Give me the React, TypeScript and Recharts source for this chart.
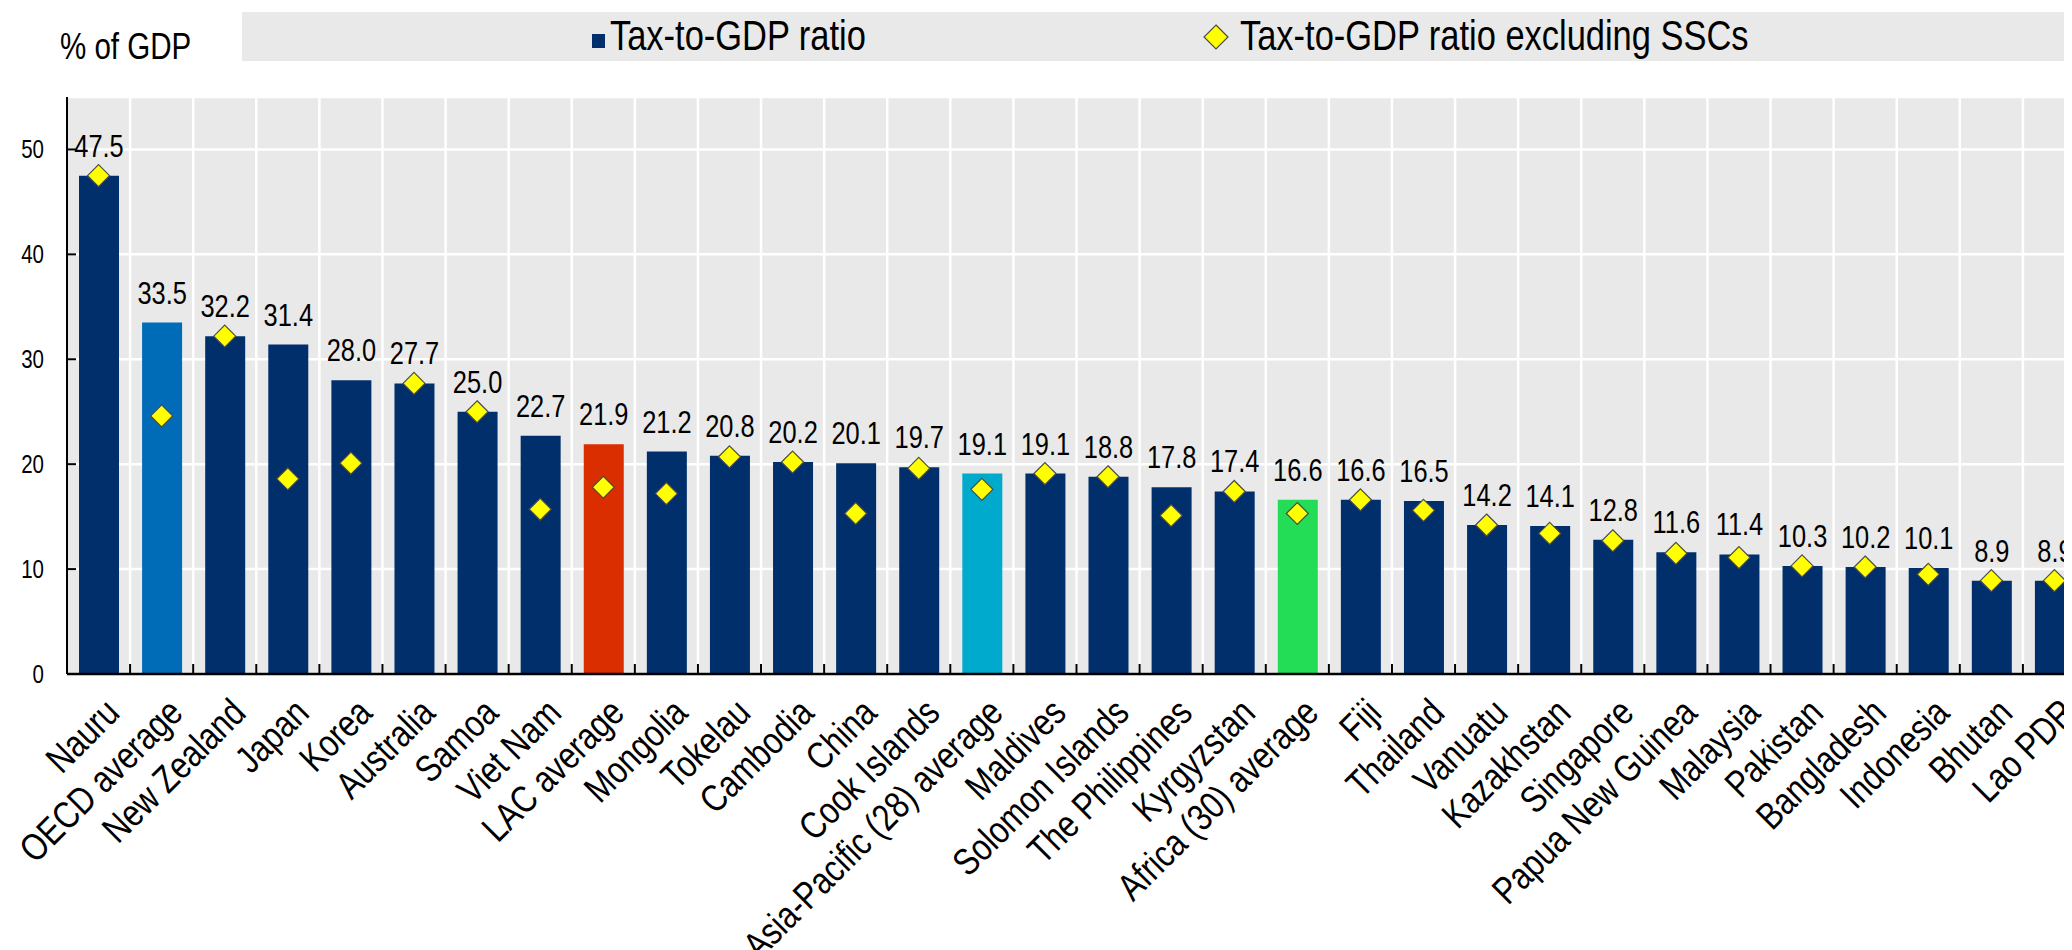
import { Bar, CartesianGrid, Cell, ComposedChart, LabelList, Line, XAxis, YAxis } from 'recharts';

// the original uses a condensed sans; squeeze Liberation Sans to match
const FONT = '"Liberation Sans", Arial, sans-serif';
const SQUEEZE = 0.82;

const countries = [
  'Nauru',
  'OECD average',
  'New Zealand',
  'Japan',
  'Korea',
  'Australia',
  'Samoa',
  'Viet Nam',
  'LAC average',
  'Mongolia',
  'Tokelau',
  'Cambodia',
  'China',
  'Cook Islands',
  'Asia-Pacific (28) average',
  'Maldives',
  'Solomon Islands',
  'The Philippines',
  'Kyrgyzstan',
  'Africa (30) average',
  'Fiji',
  'Thailand',
  'Vanuatu',
  'Kazakhstan',
  'Singapore',
  'Papua New Guinea',
  'Malaysia',
  'Pakistan',
  'Bangladesh',
  'Indonesia',
  'Bhutan',
  'Lao PDR',
];

const taxToGdp = [
  47.5, 33.5, 32.2, 31.4, 28.0, 27.7, 25.0, 22.7, 21.9, 21.2, 20.8, 20.2, 20.1, 19.7, 19.1, 19.1,
  18.8, 17.8, 17.4, 16.6, 16.6, 16.5, 14.2, 14.1, 12.8, 11.6, 11.4, 10.3, 10.2, 10.1, 8.9, 8.9,
];

const taxExclSsc = [
  47.5, 24.6, 32.2, 18.6, 20.1, 27.7, 25.0, 15.7, 17.8, 17.2, 20.7, 20.2, 15.3, 19.6, 17.6, 19.1,
  18.8, 15.1, 17.4, 15.3, 16.6, 15.6, 14.2, 13.4, 12.7, 11.5, 11.1, 10.3, 10.2, 9.5, 8.9, 8.9,
];

const yTicks = [0, 10, 20, 30, 40, 50];

const NAVY = '#002F6C';
const highlight: Record<string, string> = {
  'OECD average': '#006BB6',
  'LAC average': '#DA2D00',
  'Asia-Pacific (28) average': '#00AACC',
  'Africa (30) average': '#22DD55',
};

const data = countries.map((name, i) => ({ name, tax: taxToGdp[i], excl: taxExclSsc[i] }));

const Diamond = ({ cx, cy, size = 11 }: { cx: number; cy: number; size?: number }) => (
  <path
    d={`M${cx},${cy - size}L${cx + size},${cy}L${cx},${cy + size}L${cx - size},${cy}Z`}
    fill="#FFFF00"
    stroke="#4a4a4a"
    strokeWidth={1.2}
  />
);

// vertical grid lines sit on the category boundaries, not the centres
const boundaryLines = ({ offset }: any) => {
  const band = offset.width / countries.length;
  return countries.slice(1).map((_, i) => offset.left + band * (i + 1));
};

const XTick = (props: any) => {
  const { x, y, payload, width, visibleTicksCount } = props;
  const band = Number(width) > 0 && visibleTicksCount ? width / visibleTicksCount : 63;
  return (
    <g>
      <line x1={x + band / 2} x2={x + band / 2} y1={y} y2={y - 10} stroke="#000" strokeWidth={2} />
      <text
        transform={`translate(${x + 4},${y + 22}) rotate(-45) scale(${SQUEEZE},1)`}
        textAnchor="end"
        dy="0.71em"
        fontSize={38}
        fontFamily={FONT}
        fill="#000"
      >
        {payload.value}
      </text>
    </g>
  );
};

const YTick = (props: any) => {
  const { x, y, payload } = props;
  return (
    <g>
      <line x1={x} x2={x + 9} y1={y} y2={y} stroke="#000" strokeWidth={2} />
      <text
        transform={`translate(${x - 23},${y}) scale(${SQUEEZE},1)`}
        dy="0.36em"
        textAnchor="end"
        fontSize={25}
        fontFamily={FONT}
        fill="#000"
      >
        {payload.value}
      </text>
    </g>
  );
};

const ValueLabel = (props: any) => {
  const { x, y, width, value } = props;
  return (
    <text
      transform={`translate(${x + width / 2},${y - 19}) scale(${SQUEEZE},1)`}
      textAnchor="middle"
      fontSize={31}
      fontFamily={FONT}
      fill="#000"
    >
      {Number(value).toFixed(1)}
    </text>
  );
};

const squeezed = (left: number, top: number, size: number): React.CSSProperties => ({
  position: 'absolute',
  left,
  top,
  fontSize: size,
  lineHeight: 1,
  whiteSpace: 'nowrap',
  transform: `scaleX(${SQUEEZE})`,
  transformOrigin: 'left top',
});

const Legend = () => (
  <div
    style={{
      position: 'absolute',
      left: 234,
      top: 4,
      width: 1825,
      height: 49,
      background: '#E9E9E9',
    }}
  >
    <div style={{ position: 'absolute', left: 350, top: 22, width: 13, height: 14, background: NAVY }} />
    <span style={squeezed(368, 3, 42)}>Tax-to-GDP ratio</span>
    <svg style={{ position: 'absolute', left: 961, top: 12 }} width={26} height={26}>
      <Diamond cx={13} cy={13} size={12} />
    </svg>
    <span style={squeezed(998, 3, 42)}>Tax-to-GDP ratio excluding SSCs</span>
  </div>
);

export default function App() {
  return (
    <div style={{ position: 'relative', width: 2064, height: 942, overflow: 'hidden', fontFamily: FONT }}>
      <span style={squeezed(52, 21, 36)}>% of GDP</span>
      <Legend />
      <ComposedChart
        width={2080}
        height={942}
        data={data}
        margin={{ top: 89, right: 2, bottom: 0, left: 0 }}
      >
        <CartesianGrid
          fill="#E9E9E9"
          stroke="#FFFFFF"
          strokeWidth={2.5}
          verticalCoordinatesGenerator={boundaryLines}
        />
        <XAxis
          dataKey="name"
          interval={0}
          height={276}
          tickSize={0}
          tickMargin={0}
          tickLine={false}
          axisLine={{ stroke: '#000', strokeWidth: 2.5 }}
          tick={XTick}
        />
        <XAxis
          xAxisId="top"
          dataKey="name"
          orientation="top"
          height={0}
          tick={false}
          tickLine={false}
          axisLine={{ stroke: '#000', strokeWidth: 2 }}
        />
        <YAxis
          width={59}
          domain={[0, 55]}
          ticks={yTicks}
          interval={0}
          tickSize={0}
          tickMargin={0}
          tickLine={false}
          axisLine={{ stroke: '#000', strokeWidth: 2 }}
          tick={YTick}
        />
        <Bar dataKey="tax" barSize={40} isAnimationActive={false}>
          {data.map((d) => (
            <Cell key={d.name} fill={highlight[d.name] ?? NAVY} />
          ))}
          <LabelList dataKey="tax" content={ValueLabel} />
        </Bar>
        <Line
          dataKey="excl"
          stroke="none"
          isAnimationActive={false}
          activeDot={false}
          dot={(p: any) => <Diamond key={p.index} cx={p.cx} cy={p.cy} />}
        />
      </ComposedChart>
    </div>
  );
}
